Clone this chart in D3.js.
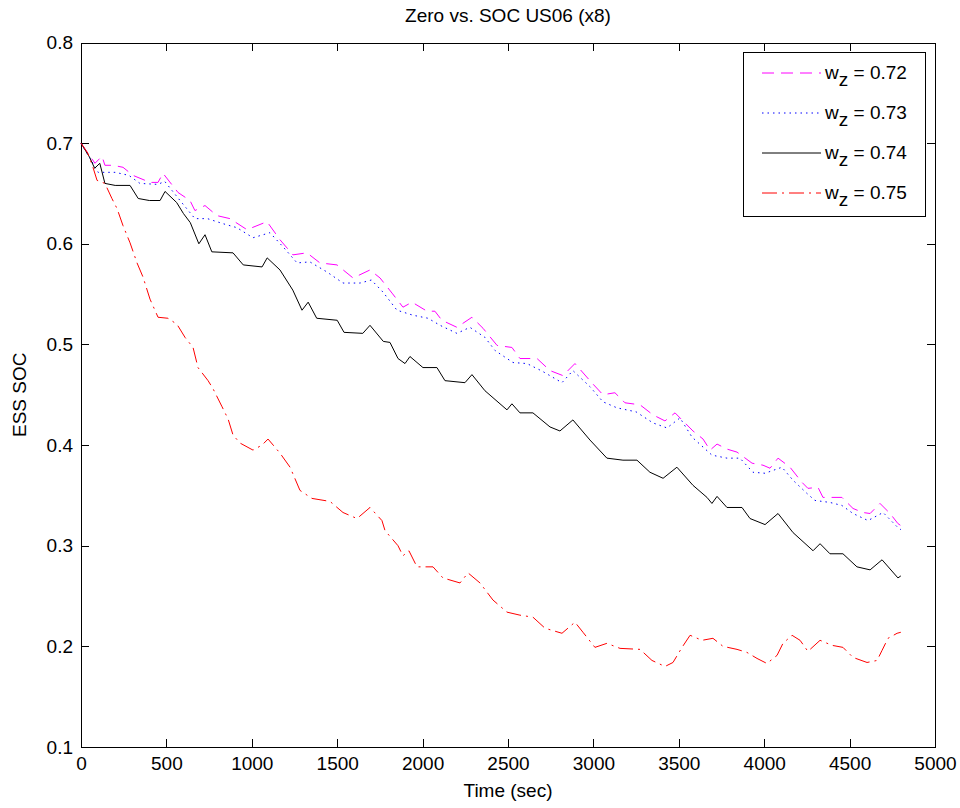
<!DOCTYPE html>
<meta charset="utf-8">
<style>
body { margin: 0; background: #fff; }
text { font-family: Arial, "Liberation Sans", Helvetica, sans-serif; fill: #000; }
.axis text { font-size: 19px; }
.axis path, .axis line { stroke: #000; shape-rendering: crispEdges; }
.series { fill: none; stroke-width: 1; }
</style>
<svg width="960" height="808"></svg>
<script src="https://cdn.jsdelivr.net/npm/d3@7"></script>
<script>
// SOC traces, [time (s), SOC]
var soc072 = [[0,0.700],[40,0.690],[82,0.680],[123,0.687],[140,0.678],[187,0.678],[246,0.676],[304,0.668],[404,0.661],[451,0.661],[480,0.670],[568,0.651],[638,0.643],[667,0.633],[726,0.638],[796,0.628],[872,0.625],[972,0.614],[1089,0.622],[1165,0.604],[1241,0.589],[1323,0.591],[1399,0.581],[1499,0.579],[1593,0.566],[1692,0.574],[1751,0.566],[1821,0.551],[1885,0.537],[1938,0.542],[2026,0.533],[2072,0.533],[2113,0.524],[2201,0.517],[2289,0.527],[2354,0.516],[2436,0.499],[2523,0.497],[2570,0.486],[2670,0.486],[2746,0.474],[2822,0.469],[2892,0.481],[2990,0.462],[3056,0.450],[3126,0.452],[3185,0.442],[3273,0.440],[3349,0.430],[3419,0.424],[3478,0.432],[3583,0.414],[3642,0.406],[3683,0.395],[3724,0.401],[3782,0.396],[3841,0.393],[3929,0.382],[3993,0.380],[4034,0.377],[4081,0.387],[4151,0.378],[4221,0.363],[4256,0.357],[4315,0.358],[4344,0.348],[4455,0.348],[4520,0.337],[4578,0.333],[4620,0.332],[4678,0.342],[4737,0.332],[4783,0.322],[4800,0.320]];

var soc073 = [[0,0.700],[60,0.683],[100,0.671],[200,0.671],[280,0.668],[345,0.660],[450,0.659],[490,0.662],[580,0.643],[667,0.625],[740,0.625],[831,0.620],[913,0.616],[1007,0.606],[1106,0.611],[1183,0.597],[1265,0.581],[1340,0.582],[1440,0.572],[1534,0.561],[1634,0.561],[1700,0.564],[1768,0.552],[1850,0.534],[1944,0.529],[2032,0.526],[2102,0.519],[2201,0.511],[2277,0.517],[2365,0.507],[2424,0.494],[2529,0.482],[2611,0.481],[2705,0.473],[2816,0.462],[2880,0.474],[2980,0.458],[3056,0.443],[3138,0.437],[3250,0.433],[3349,0.422],[3431,0.417],[3507,0.427],[3577,0.408],[3694,0.390],[3782,0.387],[3858,0.387],[3934,0.373],[4005,0.372],[4104,0.378],[4169,0.365],[4250,0.352],[4297,0.345],[4385,0.343],[4455,0.340],[4520,0.332],[4608,0.325],[4696,0.333],[4783,0.318],[4800,0.316]];

var soc074 = [[0,0.700],[50,0.686],[80,0.675],[110,0.680],[140,0.660],[200,0.658],[287,0.658],[335,0.645],[400,0.643],[463,0.643],[492,0.652],[560,0.641],[600,0.630],[640,0.621],[690,0.600],[726,0.609],[766,0.592],[890,0.591],[950,0.579],[1060,0.577],[1090,0.586],[1165,0.574],[1240,0.554],[1294,0.534],[1330,0.542],[1380,0.526],[1500,0.524],[1540,0.512],[1650,0.511],[1692,0.519],[1770,0.503],[1809,0.502],[1856,0.486],[1897,0.481],[1926,0.488],[2002,0.477],[2084,0.477],[2131,0.464],[2248,0.462],[2289,0.470],[2365,0.454],[2494,0.435],[2523,0.441],[2570,0.432],[2646,0.432],[2746,0.418],[2804,0.414],[2880,0.425],[2980,0.405],[3079,0.387],[3173,0.385],[3255,0.385],[3331,0.373],[3408,0.367],[3489,0.378],[3583,0.360],[3665,0.348],[3694,0.342],[3724,0.349],[3782,0.338],[3870,0.338],[3917,0.327],[4005,0.321],[4081,0.332],[4169,0.313],[4286,0.295],[4327,0.302],[4385,0.292],[4461,0.292],[4543,0.279],[4620,0.276],[4690,0.286],[4783,0.268],[4800,0.270]];

var soc075 = [[0,0.700],[40,0.690],[70,0.676],[94,0.663],[140,0.660],[181,0.645],[211,0.635],[246,0.618],[287,0.601],[328,0.581],[363,0.567],[404,0.545],[451,0.527],[509,0.526],[562,0.520],[609,0.507],[656,0.497],[685,0.477],[744,0.464],[773,0.456],[826,0.438],[861,0.426],[890,0.410],[931,0.402],[1007,0.395],[1060,0.400],[1095,0.406],[1165,0.392],[1224,0.378],[1282,0.355],[1352,0.347],[1458,0.344],[1534,0.333],[1616,0.327],[1692,0.338],[1762,0.325],[1780,0.315],[1856,0.300],[1885,0.290],[1920,0.295],[1967,0.279],[2061,0.279],[2119,0.268],[2219,0.263],[2266,0.273],[2336,0.263],[2412,0.246],[2494,0.234],[2570,0.231],[2646,0.229],[2717,0.218],[2816,0.213],[2892,0.224],[2939,0.214],[3009,0.199],[3079,0.203],[3156,0.198],[3273,0.197],[3343,0.186],[3419,0.180],[3466,0.184],[3519,0.199],[3566,0.211],[3636,0.206],[3700,0.208],[3759,0.200],[3841,0.197],[3899,0.194],[3958,0.188],[4016,0.183],[4075,0.191],[4110,0.203],[4163,0.211],[4210,0.206],[4256,0.195],[4327,0.206],[4397,0.201],[4461,0.199],[4520,0.189],[4602,0.184],[4661,0.186],[4690,0.196],[4725,0.208],[4778,0.213],[4800,0.214]];

var wzLabels = ["0.72", "0.73", "0.74", "0.75"];
var xTicks = [0, 500, 1000, 1500, 2000, 2500, 3000, 3500, 4000, 4500, 5000];
var yTicks = [0.1, 0.2, 0.3, 0.4, 0.5, 0.6, 0.7, 0.8];

var series = [
  { data: soc072, color: "#ff00ff", dash: "12,7" },
  { data: soc073, color: "#0000ff", dash: "1.5,4" },
  { data: soc074, color: "#000000", dash: null },
  { data: soc075, color: "#ff0000", dash: "15,5,2,5" }
];

var svg = d3.select("svg"),
    plotL = 81, plotR = 935, plotT = 42.5, plotB = 747;

var x = d3.scaleLinear().domain([0, 5000]).range([plotL, plotR]),
    y = d3.scaleLinear().domain([0.1, 0.8]).range([plotB, plotT]);

svg.append("rect").attr("width", 960).attr("height", 808).attr("fill", "#fff");

// box axes, ticks pointing inward like matlab
svg.append("g").attr("class", "axis")
    .attr("transform", "translate(0," + plotB + ")")
    .call(d3.axisBottom(x).tickValues(xTicks).tickSize(-8).tickSizeOuter(0).tickPadding(10).tickFormat(d3.format("d")));
svg.append("g").attr("class", "axis")
    .attr("transform", "translate(0," + plotT + ")")
    .call(d3.axisTop(x).tickValues(xTicks).tickSize(-8).tickSizeOuter(0).tickFormat(""));
svg.append("g").attr("class", "axis")
    .attr("transform", "translate(" + plotL + ",0)")
    .call(d3.axisLeft(y).tickValues(yTicks).tickSize(-8).tickSizeOuter(0).tickPadding(8).tickFormat(d3.format(".1f")));
svg.append("g").attr("class", "axis")
    .attr("transform", "translate(" + plotR + ",0)")
    .call(d3.axisRight(y).tickValues(yTicks).tickSize(-8).tickSizeOuter(0).tickFormat(""));

var line = d3.line()
    .x(function(d) { return x(d[0]); })
    .y(function(d) { return y(d[1]); });

svg.selectAll(".series")
  .data(series)
  .enter().append("path")
    .attr("class", "series")
    .attr("d", function(d) { return line(d.data); })
    .attr("stroke", function(d) { return d.color; })
    .attr("stroke-dasharray", function(d) { return d.dash; });

// labels
svg.append("text")
    .attr("x", (plotL + plotR) / 2).attr("y", 22)
    .attr("text-anchor", "middle").style("font-size", "19px")
    .text("Zero vs. SOC US06 (x8)");

svg.append("text")
    .attr("x", (plotL + plotR) / 2).attr("y", 797)
    .attr("text-anchor", "middle").style("font-size", "19px")
    .text("Time (sec)");

svg.append("text")
    .attr("transform", "translate(26," + (plotT + plotB) / 2 + ") rotate(-90)")
    .attr("text-anchor", "middle").style("font-size", "19px")
    .text("ESS SOC");

// legend
var legend = svg.append("g");
legend.append("rect")
    .attr("x", 743.5).attr("y", 52.5).attr("width", 182).attr("height", 164)
    .attr("fill", "#fff").attr("stroke", "#000");

var row = legend.selectAll(".row")
  .data(series)
  .enter().append("g")
    .attr("class", "row")
    .attr("transform", function(d, i) { return "translate(0," + (73 + i * 40) + ")"; });

row.append("line")
    .attr("x1", 762).attr("x2", 821)
    .attr("stroke", function(d) { return d.color; })
    .attr("stroke-dasharray", function(d) { return d.dash; });

var label = row.append("text")
    .attr("x", 825).attr("y", 6)
    .style("font-size", "19px");
label.append("tspan").text("w");
label.append("tspan").attr("dy", 7).text("z");
label.append("tspan").attr("dy", -7).text(function(d, i) { return " = " + wzLabels[i]; });
</script>
